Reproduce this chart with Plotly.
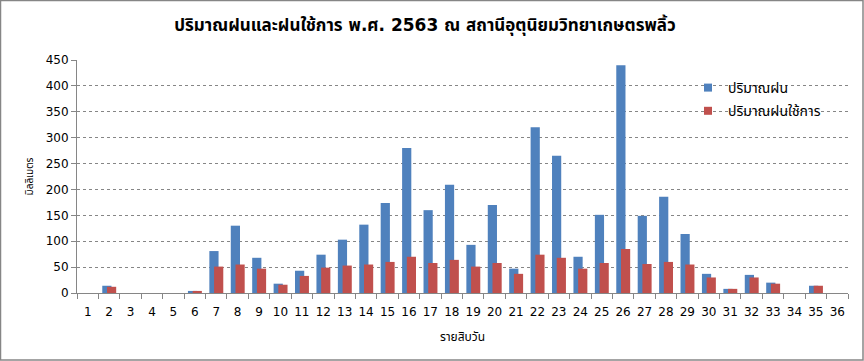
import plotly.graph_objects as go

categories = [str(i) for i in range(1, 37)]
rain = [0, 14, 0, 0, 0, 4, 81, 130, 68, 18, 43, 74, 103, 132, 174, 280, 160, 209,
        93, 170, 47, 320, 265, 70, 151, 440, 149, 186, 114, 37, 8, 35, 20, 0, 14, 0]
eff_rain = [0, 12, 0, 0, 0, 4, 51, 55, 47, 16, 33, 49, 53, 55, 60, 70, 58, 64,
            51, 58, 37, 74, 68, 47, 58, 85, 56, 60, 55, 30, 8, 30, 18, 0, 14, 0]
series_names = ["ปริมาณฝน", "ปริมาณฝนใช้การ"]
colors = ["#4F81BD", "#C0504D"]

FONT = "Tahoma, DejaVu Sans, Noto Sans Thai, Noto Sans, sans-serif"
AXIS_GREY = "#868686"

L, R, T, B = 77, 16, 60, 68
W, H = 864, 361
pw = W - L - R
ph = H - T - B

fig = go.Figure()
bw = 0.43
offsets = [-0.32, -0.10]
for vals, name, col, off in zip([rain, eff_rain], series_names, colors, offsets):
    fig.add_trace(go.Bar(x=categories, y=vals, name=name, marker_color=col,
                         marker_line_width=0, width=bw, offset=off, showlegend=False,
                         hoverinfo="skip"))
    fig.add_trace(go.Scatter(x=[None], y=[None], mode="markers", name=name,
                             legendgroup=name,
                             marker=dict(symbol="square", size=8, color=col)))

# white legend background hiding gridlines
fig.add_shape(type="rect", xref="paper", yref="paper",
              x0=(685 - L) / pw, x1=1.0, y0=(H - B - 130) / ph, y1=(H - B - 63) / ph,
              fillcolor="white", line_width=0, layer="between")

fig.update_layout(
    width=W, height=H,
    margin=dict(l=L, r=R, t=T, b=B, autoexpand=False),
    paper_bgcolor="white", plot_bgcolor="white",
    barmode="overlay",
    font=dict(family=FONT, size=12, color="black"),
    title=dict(text="<b>ปริมาณฝนและฝนใช้การ พ.ศ. 2563 ณ สถานีอุตุนิยมวิทยาเกษตรพลิ้ว</b>",
               x=425 / W, xanchor="center", y=1 - 25 / H, yanchor="middle",
               font=dict(family=FONT, size=17, color="black")),
    legend=dict(x=(688 - L) / pw, xanchor="left", y=(H - B - 72) / ph, yanchor="top",
                bgcolor="rgba(0,0,0,0)", font=dict(family=FONT, size=14, color="black"),
                itemwidth=30, tracegroupgap=2),
    xaxis=dict(type="category", tickson="boundaries", ticks="outside", ticklen=5,
               tickcolor=AXIS_GREY, showline=True, linecolor=AXIS_GREY, linewidth=1,
               showgrid=False, tickfont=dict(size=12), tickangle=0, automargin=False,
               ticklabelstandoff=8, range=[-0.5, 35.5],
               title=dict(text="รายสิบวัน", font=dict(size=12), standoff=14)),
    yaxis=dict(range=[0, 450], dtick=50, ticks="outside", ticklen=5, tickcolor=AXIS_GREY,
               showline=True, linecolor=AXIS_GREY, linewidth=1, automargin=False,
               showgrid=True, gridcolor=AXIS_GREY, griddash="3px,3px", gridwidth=1,
               zeroline=False, tickfont=dict(size=12),
               title=dict(text="มิลลิเมตร", font=dict(size=10), standoff=10)),
)

# chart border
fig.add_shape(type="rect", xref="paper", yref="paper",
              x0=-(L - 0.5) / pw, x1=1 + (R - 1) / pw, y0=-(B - 1) / ph, y1=1 + (T - 0.5) / ph,
              line=dict(color=AXIS_GREY, width=1.5), fillcolor="rgba(0,0,0,0)", layer="above")

fig.write_html("out.html", config={"displayModeBar": False})

# remove the default page margin so the figure fills the window exactly
with open("out.html", "r", encoding="utf-8") as f:
    html = f.read()
html = html.replace("<body>", '<body style="margin:0;padding:0;overflow:hidden">', 1)
with open("out.html", "w", encoding="utf-8") as f:
    f.write(html)
